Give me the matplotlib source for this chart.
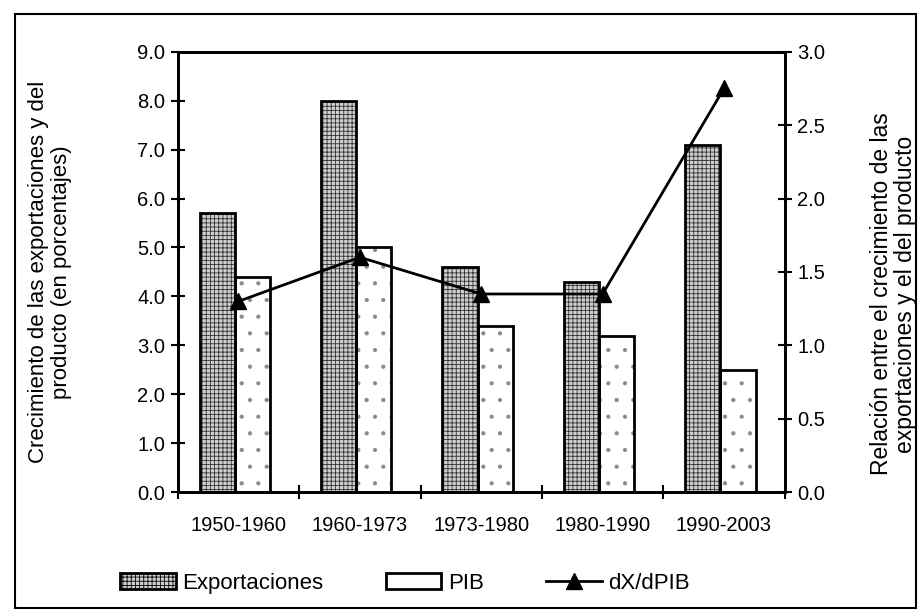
import matplotlib
matplotlib.use("Agg")
import matplotlib.pyplot as plt
import numpy as np
from matplotlib.patches import Rectangle

# data
periodos = ["1950-1960", "1960-1973", "1973-1980", "1980-1990", "1990-2003"]
exportaciones = [5.7, 8.0, 4.6, 4.3, 7.1]
pib = [4.4, 5.0, 3.4, 3.2, 2.5]
relacion = [1.3, 1.6, 1.35, 1.35, 2.75]

plt.rcParams["font.family"] = ["Liberation Sans", "DejaVu Sans"]
plt.rcParams["hatch.linewidth"] = 0.6

fig = plt.figure(figsize=(9.21, 6.16), dpi=100)
ax = fig.add_axes([0.193, 0.201, 0.659, 0.715])
ax2 = ax.twinx()

x = np.arange(len(periodos))
w = 0.29
xe = x - w / 2 - 0.03
xp = x + w / 2 - 0.03
# hatch fill first (grey pattern), then black outline on top
ax.bar(xe, exportaciones, w, facecolor="#cfcfcf", edgecolor="#333333",
       hatch="++++", linewidth=0, zorder=2)
ax.bar(xp, pib, w, facecolor="white", edgecolor="#8a8a8a",
       hatch=".", linewidth=0, zorder=2)
ax.bar(xe, exportaciones, w, fill=False, edgecolor="black", linewidth=2, zorder=2)
ax.bar(xp, pib, w, fill=False, edgecolor="black", linewidth=2, zorder=2)
ax2.plot(x, relacion, color="black", lw=2, marker="^", ms=11, label="dX/dPIB", zorder=3)

ax.set_xlim(-0.5, len(periodos) - 0.5)
ax.set_ylim(0, 9)
ax2.set_ylim(0, 3)
ax.set_yticks(np.arange(0, 9.1, 1))
ax.set_yticklabels([f"{v:.1f}" for v in np.arange(0, 9.1, 1)])
ax2.set_yticks(np.arange(0, 3.01, 0.5))
ax2.set_yticklabels([f"{v:.1f}" for v in np.arange(0, 3.01, 0.5)])

# category labels centred, tick marks between categories
ax.set_xticks(x)
ax.set_xticklabels(periodos)
ax.tick_params(axis="x", length=0, pad=17, labelsize=14.5)
ax.set_xticks(np.arange(-0.5, len(periodos), 1), minor=True)
ax.tick_params(axis="x", which="minor", direction="inout", length=10, width=1.5)
ax.tick_params(axis="y", direction="inout", length=10, width=1.5, pad=4, labelsize=14.5)
ax2.tick_params(axis="y", direction="inout", length=10, width=1.5, pad=4, labelsize=14.5)

for a in (ax, ax2):
    for s in a.spines.values():
        s.set_linewidth(2)

ax.set_ylabel("Crecimiento de las exportaciones y del\nproducto (en porcentajes)",
              fontsize=16, linespacing=1.1)
ax.yaxis.set_label_coords(-0.175, 0.5)
ax2.set_ylabel("Relación entre el crecimiento de las\nexportaciones y el del producto",
               fontsize=16.5, linespacing=1.1)
ax2.yaxis.set_label_coords(1.14, 0.45)

# legend built from proxy artists matching the bars
from matplotlib.patches import Patch
h_exp = Patch(facecolor="#cfcfcf", edgecolor="black", hatch="++++", linewidth=2)
h_pib = Patch(facecolor="white", edgecolor="black", linewidth=2)
h2, l2 = ax2.get_legend_handles_labels()
fig.legend([h_exp, h_pib] + h2, ["Exportaciones", "PIB"] + l2, loc="center",
           bbox_to_anchor=(0.44, 0.053), ncol=3, frameon=False, fontsize=16,
           handlelength=2.5, handleheight=0.7, columnspacing=2.8, handletextpad=0.3)

# outer frame of the scanned figure
fig.patches.append(Rectangle((0.016, 0.013), 0.979, 0.965, transform=fig.transFigure,
                             fill=False, edgecolor="black", linewidth=1.5))

fig.savefig("out.png", dpi=100)
